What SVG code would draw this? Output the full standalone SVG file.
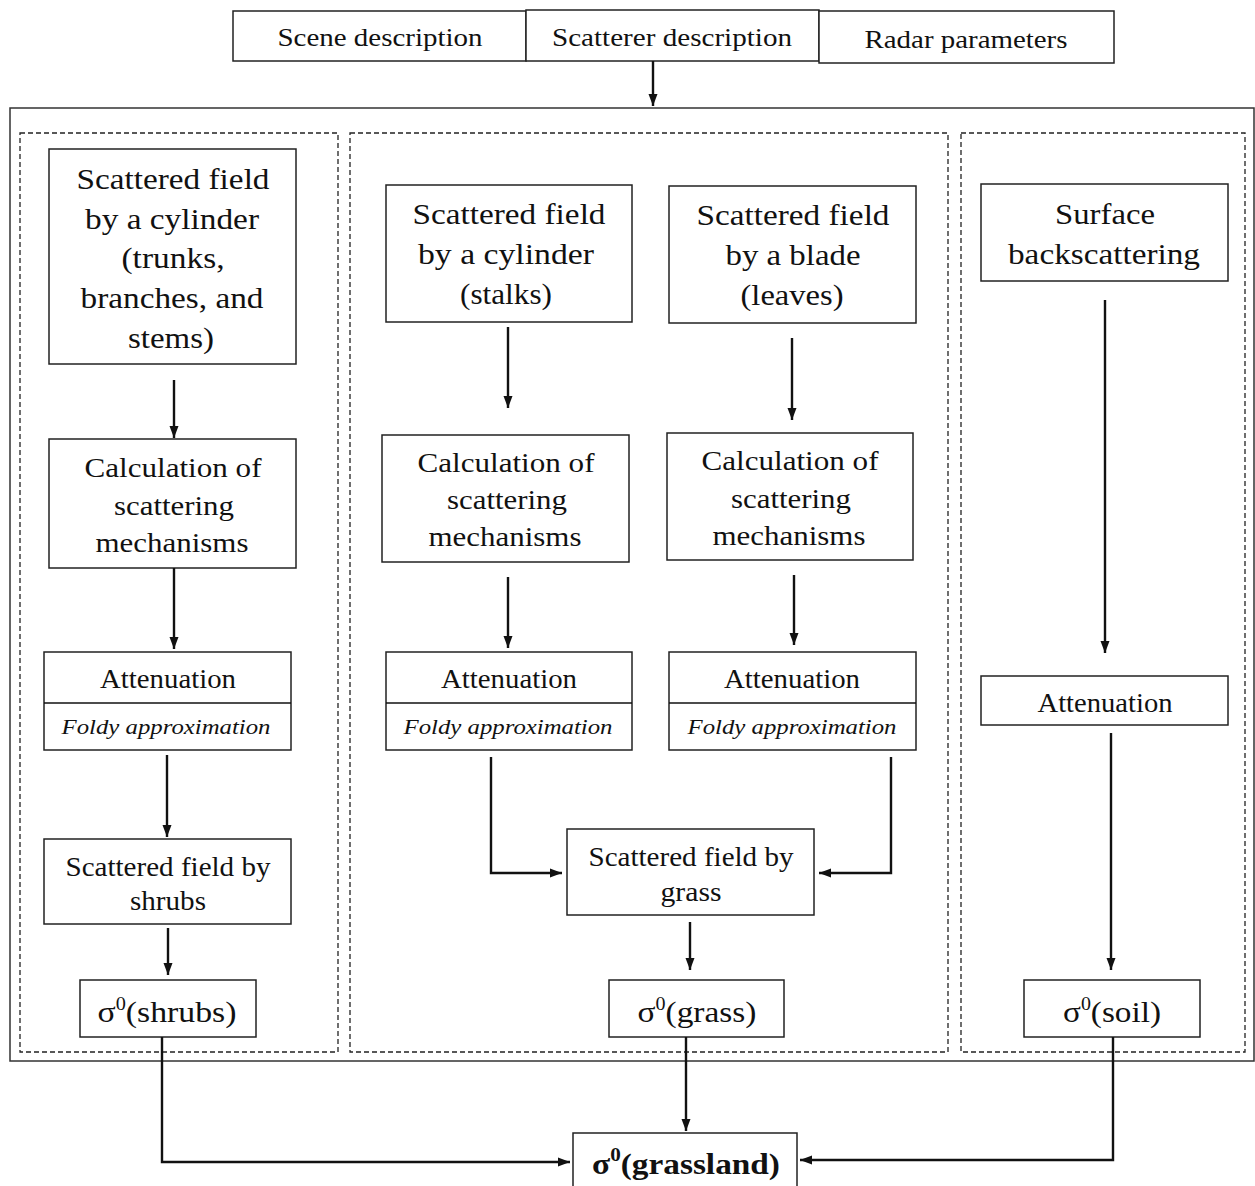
<svg xmlns="http://www.w3.org/2000/svg" width="1255" height="1186" viewBox="0 0 1255 1186">
<defs>
<marker id="ah" markerUnits="userSpaceOnUse" markerWidth="12" markerHeight="12" viewBox="0 0 12 12" refX="12" refY="6" orient="auto">
<path d="M0,1.5 L12,6 L0,10.5 Z" fill="#111"/>
</marker>
<style>
.b{fill:#fff;stroke:#222;stroke-width:1.5}
.d{fill:none;stroke:#222;stroke-width:1.3;stroke-dasharray:5,3}
.o{fill:none;stroke:#333;stroke-width:1.5}
.c{fill:none;stroke:#111;stroke-width:2.4;marker-end:url(#ah)}
.l{fill:none;stroke:#111;stroke-width:1.5}
text{font-family:"Liberation Serif","Times New Roman",serif;fill:#111;text-anchor:middle}
.t{font-size:29px}
.m{font-size:27px}
.s{font-size:25px}
.i{font-size:21px;font-style:italic}
.g{font-size:30px}
.bold{font-size:30px;font-weight:bold}
</style>
</defs>
<rect id="outer" class="o" x="10" y="108" width="1244" height="953"/>
<rect id="dashL" class="d" x="20" y="133" width="318" height="919"/>
<rect id="dashM" class="d" x="350" y="133" width="598" height="919"/>
<rect id="dashR" class="d" x="961" y="133" width="284" height="919"/>

<g id="scene"><rect class="b" x="233" y="11" width="293" height="50"/><text class="s" x="380" y="46" textLength="205" lengthAdjust="spacingAndGlyphs">Scene description</text></g>
<g id="scatterer"><rect class="b" x="526" y="10" width="293" height="51"/><text class="s" x="672" y="46" textLength="240" lengthAdjust="spacingAndGlyphs">Scatterer description</text></g>
<g id="radar"><rect class="b" x="819" y="11" width="295" height="52"/><text class="s" x="966" y="48" textLength="203" lengthAdjust="spacingAndGlyphs">Radar parameters</text></g>

<g id="a1"><rect class="b" x="49" y="149" width="247" height="215"/>
<text class="t" x="173" y="189" textLength="193" lengthAdjust="spacingAndGlyphs">Scattered field</text>
<text class="t" x="172" y="229" textLength="174" lengthAdjust="spacingAndGlyphs">by a cylinder</text>
<text class="t" x="173" y="268" textLength="103" lengthAdjust="spacingAndGlyphs">(trunks,</text>
<text class="t" x="172" y="308" textLength="183" lengthAdjust="spacingAndGlyphs">branches, and</text>
<text class="t" x="171" y="348" textLength="86" lengthAdjust="spacingAndGlyphs">stems)</text></g>
<g id="a2"><rect class="b" x="49" y="439" width="247" height="129"/>
<text class="m" x="173" y="477" textLength="177" lengthAdjust="spacingAndGlyphs">Calculation of</text>
<text class="m" x="174" y="515" textLength="120" lengthAdjust="spacingAndGlyphs">scattering</text>
<text class="m" x="172" y="552" textLength="153" lengthAdjust="spacingAndGlyphs">mechanisms</text></g>
<g id="a3"><rect class="b" x="44" y="652" width="247" height="98"/><line class="l" x1="44" y1="703" x2="291" y2="703"/>
<text class="m" x="168" y="688" textLength="136" lengthAdjust="spacingAndGlyphs">Attenuation</text>
<text class="i" x="166" y="734" textLength="209" lengthAdjust="spacingAndGlyphs">Foldy approximation</text></g>
<g id="a4"><rect class="b" x="44" y="839" width="247" height="85"/>
<text class="m" x="168" y="876" textLength="205" lengthAdjust="spacingAndGlyphs">Scattered field by</text>
<text class="m" x="168" y="910" textLength="76" lengthAdjust="spacingAndGlyphs">shrubs</text></g>
<g id="a5"><rect class="b" x="80" y="980" width="176" height="57"/>
<text class="g" x="167" y="1022" textLength="139" lengthAdjust="spacingAndGlyphs">σ<tspan font-size="18" dy="-12">0</tspan><tspan dy="12">(shrubs)</tspan></text></g>

<g id="b1"><rect class="b" x="386" y="185" width="246" height="137"/>
<text class="t" x="509" y="224" textLength="193" lengthAdjust="spacingAndGlyphs">Scattered field</text>
<text class="t" x="506" y="264" textLength="176" lengthAdjust="spacingAndGlyphs">by a cylinder</text>
<text class="t" x="506" y="304" textLength="92" lengthAdjust="spacingAndGlyphs">(stalks)</text></g>
<g id="c1"><rect class="b" x="669" y="186" width="247" height="137"/>
<text class="t" x="793" y="225" textLength="193" lengthAdjust="spacingAndGlyphs">Scattered field</text>
<text class="t" x="793" y="265" textLength="135" lengthAdjust="spacingAndGlyphs">by a blade</text>
<text class="t" x="792" y="305" textLength="103" lengthAdjust="spacingAndGlyphs">(leaves)</text></g>
<g id="b2"><rect class="b" x="382" y="435" width="247" height="127"/>
<text class="m" x="506" y="472" textLength="177" lengthAdjust="spacingAndGlyphs">Calculation of</text>
<text class="m" x="507" y="509" textLength="120" lengthAdjust="spacingAndGlyphs">scattering</text>
<text class="m" x="505" y="546" textLength="153" lengthAdjust="spacingAndGlyphs">mechanisms</text></g>
<g id="c2"><rect class="b" x="667" y="433" width="246" height="127"/>
<text class="m" x="790" y="470" textLength="177" lengthAdjust="spacingAndGlyphs">Calculation of</text>
<text class="m" x="791" y="508" textLength="120" lengthAdjust="spacingAndGlyphs">scattering</text>
<text class="m" x="789" y="545" textLength="153" lengthAdjust="spacingAndGlyphs">mechanisms</text></g>
<g id="b3"><rect class="b" x="386" y="652" width="246" height="98"/><line class="l" x1="386" y1="703" x2="632" y2="703"/>
<text class="m" x="509" y="688" textLength="136" lengthAdjust="spacingAndGlyphs">Attenuation</text>
<text class="i" x="508" y="734" textLength="209" lengthAdjust="spacingAndGlyphs">Foldy approximation</text></g>
<g id="c3"><rect class="b" x="669" y="652" width="247" height="98"/><line class="l" x1="669" y1="703" x2="916" y2="703"/>
<text class="m" x="792" y="688" textLength="136" lengthAdjust="spacingAndGlyphs">Attenuation</text>
<text class="i" x="792" y="734" textLength="209" lengthAdjust="spacingAndGlyphs">Foldy approximation</text></g>
<g id="b4"><rect class="b" x="567" y="829" width="247" height="86"/>
<text class="m" x="691" y="866" textLength="205" lengthAdjust="spacingAndGlyphs">Scattered field by</text>
<text class="m" x="691" y="901" textLength="61" lengthAdjust="spacingAndGlyphs">grass</text></g>
<g id="b5"><rect class="b" x="609" y="980" width="175" height="57"/>
<text class="g" x="697" y="1022" textLength="119" lengthAdjust="spacingAndGlyphs">σ<tspan font-size="18" dy="-12">0</tspan><tspan dy="12">(grass)</tspan></text></g>

<g id="d1"><rect class="b" x="981" y="184" width="247" height="97"/>
<text class="t" x="1105" y="224" textLength="100" lengthAdjust="spacingAndGlyphs">Surface</text>
<text class="t" x="1104" y="264" textLength="192" lengthAdjust="spacingAndGlyphs">backscattering</text></g>
<g id="d2"><rect class="b" x="981" y="676" width="247" height="49"/>
<text class="m" x="1105" y="712" textLength="135" lengthAdjust="spacingAndGlyphs">Attenuation</text></g>
<g id="d3"><rect class="b" x="1024" y="980" width="176" height="57"/>
<text class="g" x="1112" y="1022" textLength="98" lengthAdjust="spacingAndGlyphs">σ<tspan font-size="18" dy="-12">0</tspan><tspan dy="12">(soil)</tspan></text></g>

<g id="final"><rect class="b" x="573" y="1133" width="224" height="60"/>
<text class="bold" x="686" y="1174" textLength="188" lengthAdjust="spacingAndGlyphs">σ<tspan font-size="19" dy="-13">0</tspan><tspan dy="13">(grassland)</tspan></text></g>

<g id="connectors">
<path class="c" d="M653,61 V106"/>
<path class="c" d="M174,380 V438"/>
<path class="c" d="M174,568 V649"/>
<path class="c" d="M167,755 V837"/>
<path class="c" d="M168,928 V975"/>
<path class="c" d="M162,1037 V1162 H570"/>
<path class="c" d="M508,327 V408"/>
<path class="c" d="M792,338 V420"/>
<path class="c" d="M508,577 V648"/>
<path class="c" d="M794,575 V645"/>
<path class="c" d="M491,757 V873 H562"/>
<path class="c" d="M891,757 V873 H819"/>
<path class="c" d="M690,922 V970"/>
<path class="c" d="M686,1037 V1131"/>
<path class="c" d="M1105,300 V653"/>
<path class="c" d="M1111,733 V970"/>
<path class="c" d="M1113,1037 V1160 H800"/>
</g>
</svg>
